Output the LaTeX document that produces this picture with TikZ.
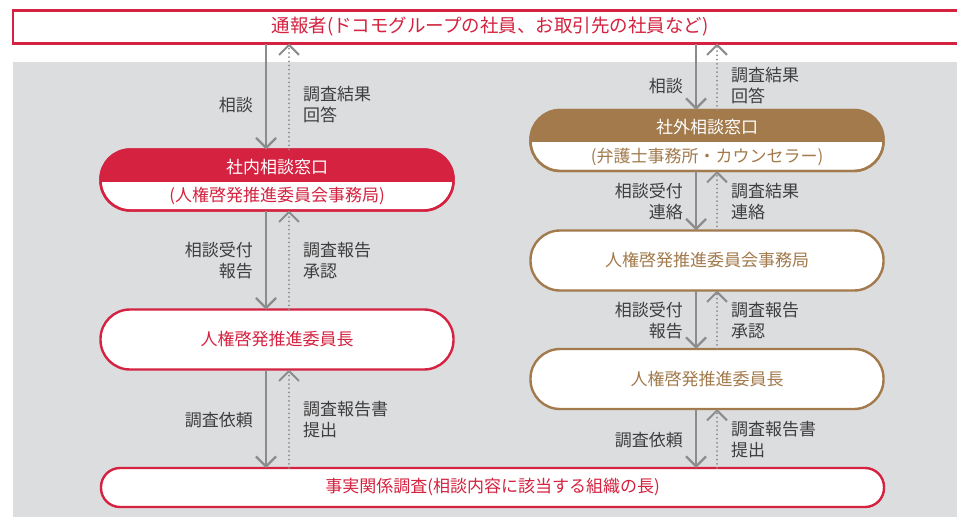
\documentclass[tikz,border=0pt]{standalone}
\usepackage{fontspec}
\newfontfamily\jpfont{Noto Sans CJK JP}
\usetikzlibrary{arrows.meta}

\definecolor{docred}{HTML}{D42240}
\definecolor{docbrown}{HTML}{A27A4C}
\definecolor{panelgray}{HTML}{DCDDDF}
\definecolor{flowgray}{HTML}{8C8C8C}
\definecolor{labelgray}{HTML}{3E3E3E}

\tikzset{
  pill/.style={draw=#1, text=#1, line width=2.4pt, fill=white, rounded corners=29.5pt,
    minimum width=353pt, minimum height=60pt, inner sep=0pt, outer sep=0pt},
  ask/.style={flowgray, line width=2.3pt, -{Straight Barb[length=10pt,width=20pt]}},
  reply/.style={flowgray, line width=2pt, line cap=round, dash pattern=on 0pt off 4.2pt,
    -{Straight Barb[length=10pt,width=20pt]}},
  lbl/.style={text=labelgray, inner sep=0pt},
}

\begin{document}
\begin{tikzpicture}[x=1pt,y=-1pt,font=\jpfont\fontsize{17}{21}\selectfont]
  \useasboundingbox (0,0) rectangle (957,517);
  \fill[panelgray] (13,62) rectangle (957,517);

  % reporter, across the whole width
  \node[draw=docred, text=docred, line width=2.4pt, fill=white, inner sep=0pt, outer sep=0pt,
    minimum width=954pt, minimum height=33pt, font=\jpfont\fontsize{18.5}{21}\selectfont]
    (reporter) at (490,27) {通報者(ドコモグループの社員、お取引先の社員など)};

  % left column
  \node[pill=docred, minimum height=61pt] (innerdesk) at (277,180) {};
  \begin{scope}
    \clip (90,140) rectangle (470,181);
    \fill[docred, rounded corners=30pt] (innerdesk.south west) rectangle (innerdesk.north east);
  \end{scope}
  \draw[docred, line width=2.4pt, rounded corners=30pt] (innerdesk.south west) rectangle (innerdesk.north east);
  \node[text=white] (innerhead) at (277,167) {社内相談窓口};
  \node[text=docred] (innersub) at (277,196) {(人権啓発推進委員会事務局)};
  \node[pill=docred] (chairL) at (277,339.5) {人権啓発推進委員長};

  % right column
  \node[pill=docbrown, minimum height=61pt] (outerdesk) at (707,140.5) {};
  \begin{scope}
    \clip (520,100) rectangle (900,141.5);
    \fill[docbrown, rounded corners=30pt] (outerdesk.south west) rectangle (outerdesk.north east);
  \end{scope}
  \draw[docbrown, line width=2.4pt, rounded corners=30pt] (outerdesk.south west) rectangle (outerdesk.north east);
  \node[text=white] (outerhead) at (707,127.5) {社外相談窓口};
  \node[text=docbrown] (outersub) at (707,157) {(弁護士事務所・カウンセラー)};
  \node[pill=docbrown] (officeR) at (707,260.5) {人権啓発推進委員会事務局};
  \node[pill=docbrown] (chairR) at (707,379) {人権啓発推進委員長};

  % fact-finding, under both columns
  \node[pill=docred, minimum width=783pt, minimum height=39pt, rounded corners=19pt]
    (facts) at (492.5,487.5) {事実関係調査(相談内容に該当する組織の長)};

  % arrows: solid down, dotted back up
  \coordinate (Ldn) at (266,0);
  \coordinate (Lup) at (289,0);
  \coordinate (Rdn) at (696,0);
  \coordinate (Rup) at (717,0);
  \foreach \a/\b in {reporter/innerdesk, innerdesk/chairL, chairL/facts} {
    \draw[ask] (Ldn |- \a.south) -- (Ldn |- \b.north);
    \draw[reply] (Lup |- \b.north) -- (Lup |- \a.south);
  }
  \foreach \a/\b in {reporter/outerdesk, outerdesk/officeR, officeR/chairR, chairR/facts} {
    \draw[ask] (Rdn |- \a.south) -- (Rdn |- \b.north);
    \draw[reply] (Rup |- \b.north) -- (Rup |- \a.south);
  }

  % labels, left
  \node[lbl, anchor=east] (askL1) at (253,105) {相談};
  \node[lbl, anchor=west, align=left] (replyL1) at (303,105) {調査結果\\回答};
  \node[lbl, anchor=east, align=right] (askL2) at (253,260.5) {相談受付\\報告};
  \node[lbl, anchor=west, align=left] (replyL2) at (303,260.5) {調査報告\\承認};
  \node[lbl, anchor=east] (askL3) at (253,420) {調査依頼};
  \node[lbl, anchor=west, align=left] (replyL3) at (303,420) {調査報告書\\提出};
  % labels, right
  \node[lbl, anchor=east] (askR1) at (683,86) {相談};
  \node[lbl, anchor=west, align=left] (replyR1) at (731,86) {調査結果\\回答};
  \node[lbl, anchor=east, align=right] (askR2) at (683,201.5) {相談受付\\連絡};
  \node[lbl, anchor=west, align=left] (replyR2) at (731,201.5) {調査結果\\連絡};
  \node[lbl, anchor=east, align=right] (askR3) at (683,320.5) {相談受付\\報告};
  \node[lbl, anchor=west, align=left] (replyR3) at (731,320.5) {調査報告\\承認};
  \node[lbl, anchor=east] (askR4) at (683,440) {調査依頼};
  \node[lbl, anchor=west, align=left] (replyR4) at (731,440) {調査報告書\\提出};
\end{tikzpicture}
\end{document}
